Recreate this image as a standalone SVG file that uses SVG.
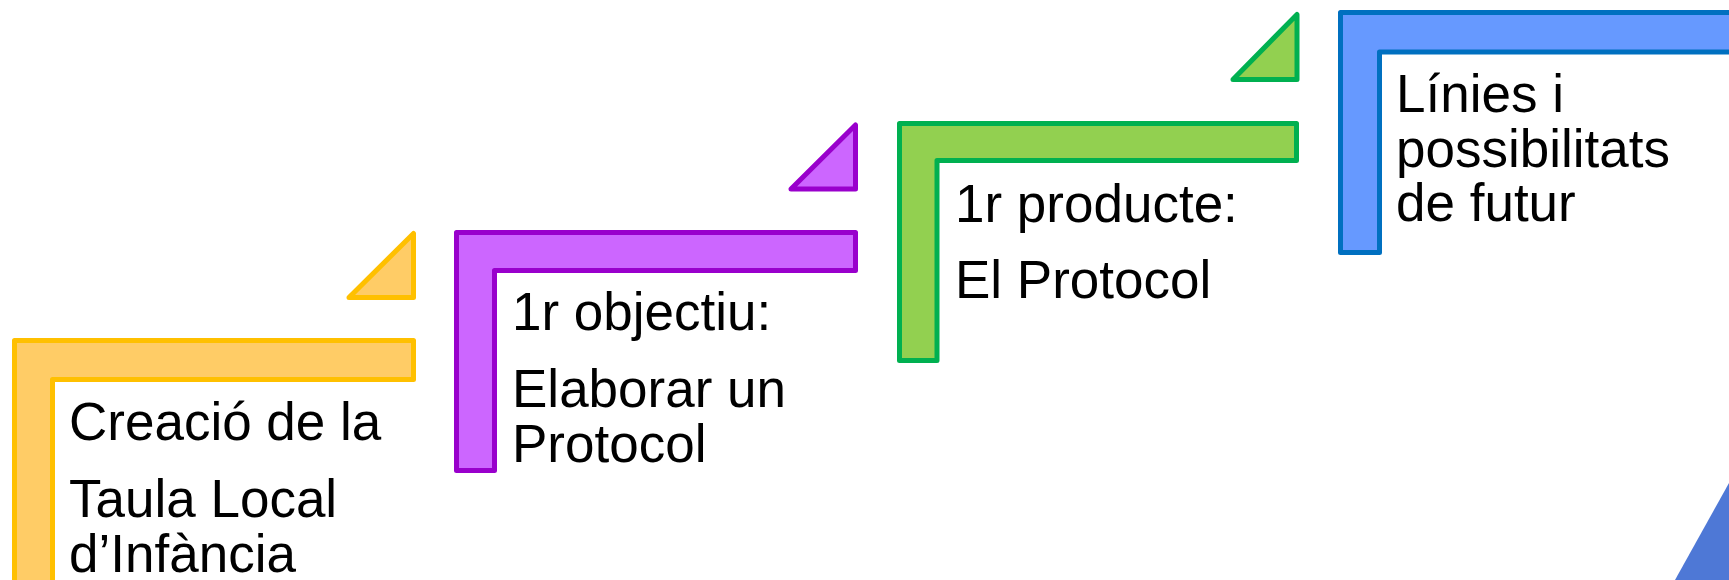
<svg xmlns="http://www.w3.org/2000/svg" width="1729" height="580" viewBox="0 0 1729 580">
<style>
.s{stroke-width:5;stroke-linejoin:round}
.t{font-family:"Liberation Sans",Arial,sans-serif;font-size:53px;fill:#000}
.y{fill:#FFCC66;stroke:#FFC000}
.p{fill:#CC66FF;stroke:#9900CC}
.g{fill:#92D050;stroke:#00B050}
.b{fill:#6699FF;stroke:#0070C0}
</style>
<rect width="1729" height="580" fill="#fff"/>
<g id="step1">
<path class="s y" d="M14.5,340.5 H413.5 V379.5 H52.5 V600 H14.5 Z"/>
<polygon class="s y" points="349,297.5 413.5,233.5 413.5,297.5"/>
<text class="t" x="69" y="440">Creació de la</text>
<text class="t" x="69" y="517">Taula Local</text>
<text class="t" x="69" y="572">d’Infància</text>
</g>
<g id="step2">
<path class="s p" d="M456.5,232.5 H855.5 V270.5 H494.5 V470.5 H456.5 Z"/>
<polygon class="s p" points="791,189 855.5,125 855.5,189"/>
<text class="t" x="512" y="330">1r objectiu:</text>
<text class="t" x="512" y="407">Elaborar un</text>
<text class="t" x="512" y="462">Protocol</text>
</g>
<g id="step3">
<path class="s g" d="M899.5,123.5 H1296.5 V160.5 H937 V360.5 H899.5 Z"/>
<polygon class="s g" points="1233,79.5 1297,14.5 1297,79.5"/>
<text class="t" x="955" y="222">1r producte:</text>
<text class="t" x="955" y="298">El Protocol</text>
</g>
<g id="step4">
<path class="s b" d="M1340.5,12.5 H1740 V52 H1379.5 V252.5 H1340.5 Z"/>
<text class="t" x="1396" y="112">Línies i</text>
<text class="t" x="1396" y="167">possibilitats</text>
<text class="t" x="1396" y="221">de futur</text>
</g>
<g id="corner">
<polygon points="1675,580 1729,483 1729,580" fill="#4E78D6"/>
</g>
<g id="connectors"/>
</svg>
